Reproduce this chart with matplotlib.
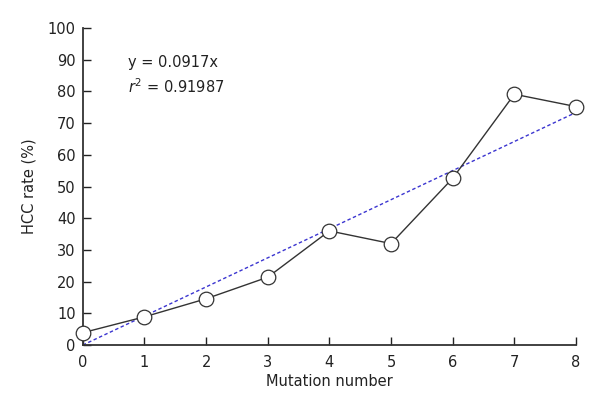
import matplotlib
matplotlib.use("Agg")
import matplotlib.pyplot as plt
import numpy as np

mutation_number = [0, 1, 2, 3, 4, 5, 6, 7, 8]
hcc_rate = [3.9, 8.9, 14.6, 21.4, 36.0, 32.0, 52.6, 79.1, 75.2]
slope = 9.17  # % per mutation (y = 0.0917x)
x_ticks = [0, 1, 2, 3, 4, 5, 6, 7, 8]
y_ticks = [0, 10, 20, 30, 40, 50, 60, 70, 80, 90, 100]

plt.rcParams['font.family'] = ['DejaVu Sans']
fig = plt.figure(figsize=(6, 4.05), dpi=100)
ax = fig.add_axes([0.138, 0.148, 0.822, 0.783])

fit_x = np.array([mutation_number[0], mutation_number[-1]])
ax.plot(fit_x, slope * fit_x, color='#3b35d0', linestyle=(0, (2.5, 1.8)), linewidth=1.0, zorder=2)
ax.plot(mutation_number, hcc_rate, color='#333333', linewidth=1.0, marker='o',
        markersize=10.5, markerfacecolor='white', markeredgecolor='#333333',
        markeredgewidth=0.9, zorder=3, clip_on=False)

ax.set_xlim(0, 8)
ax.set_ylim(0, 100)
ax.set_xticks(x_ticks)
ax.set_yticks(y_ticks)
ax.spines['top'].set_visible(False)
ax.spines['right'].set_visible(False)
for s in ['left', 'bottom']:
    ax.spines[s].set_linewidth(1.3)
    ax.spines[s].set_color('#333333')
ax.tick_params(direction='in', length=6, width=1.0, labelsize=10.5, colors='#222222')
ax.tick_params(axis='x', pad=7)
ax.tick_params(axis='y', pad=5)
ax.set_xlabel('Mutation number', fontsize=10.5, color='#222222', labelpad=3)
ax.set_ylabel('HCC rate (%)', fontsize=10.5, color='#222222', labelpad=8)

ax.text(0.73, 89, 'y = 0.0917x', fontsize=10.5, color='#222222', va='center')
ax.text(0.73, 81.5, r'$r^2$ = 0.91987', fontsize=10.5, color='#222222', va='center')

fig.savefig('out.png', dpi=100)
